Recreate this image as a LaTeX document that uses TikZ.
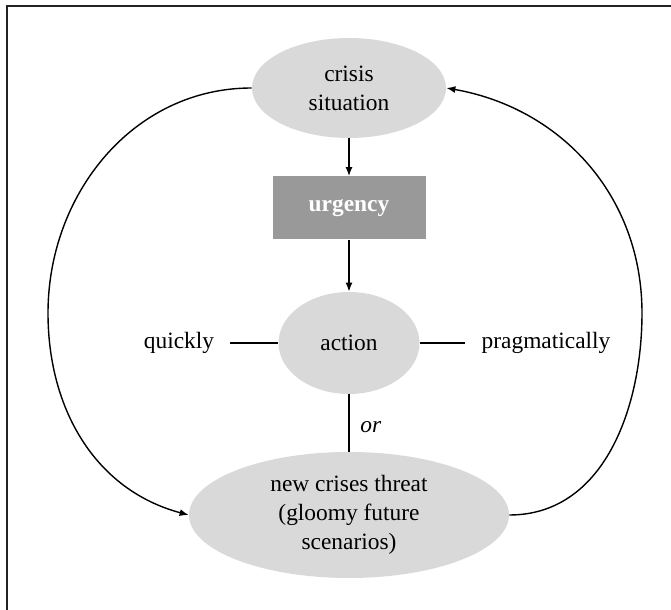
\documentclass[tikz,border=0pt]{standalone}
\usepackage{fontspec}
\setmainfont{Liberation Serif}
\usepackage{tikz}
\usetikzlibrary{shapes.geometric, arrows.meta, positioning}
\definecolor{ovalgray}{RGB}{217,217,217}
\definecolor{boxgray}{RGB}{153,153,153}
\definecolor{framegray}{RGB}{34,34,34}

\begin{document}
\begin{tikzpicture}[x=0.5pt,y=0.5pt,
	every node/.style={font=\fontsize{11.7}{14.5}\selectfont},
	oval/.style={ellipse, fill=ovalgray, inner sep=0pt, align=center},
	urgbox/.style={rectangle, fill=boxgray, text=white,
		font=\fontsize{11.7}{14.5}\selectfont\bfseries,
		minimum width=76.5pt, minimum height=31.5pt},
	conn/.style={line width=0.7pt},
	arr/.style={conn, -{Latex[length=4.5pt,width=3.5pt]}}]

	\useasboundingbox (0,0) rectangle (671,610);
	\draw[line width=1pt, framegray] (671,603.5) -- (6.5,603.5) -- (6.5,0);

	% the cycle
	\node[oval, minimum width=97pt, minimum height=50pt] (crisis) at (349,522) {crisis\\situation};
	\node[urgbox] (urg) at (349,402) {urgency};
	\node[oval, minimum width=70.5pt, minimum height=51pt] (action) at (349,267) {action};
	\node[oval, minimum width=160pt, minimum height=63pt] (threat) at (349,95) {new crises threat\\(gloomy future\\scenarios)};

	\node[inner sep=8pt] (quick) at (179,267) {quickly};
	\node[inner sep=8pt] (prag) at (546,267) {pragmatically};

	\coordinate (lbend) at (48,297);
	\coordinate (rbend) at (642,297);

	\draw[arr] (crisis) -- (urg);
	\draw[arr] (urg) -- (action);
	\draw[conn] (quick) -- (action);
	\draw[conn] (action) -- (prag);
	\draw[conn] (action) -- node[pos=0.58, right=2pt, font=\fontsize{11.7}{14.5}\selectfont\itshape] (ortext) {or} (threat);

	\draw[arr] (crisis.west) to[out=180,in=90] (lbend) to[out=-90,in=165] (threat.west);
	\draw[arr] (threat.east) to[out=0,in=-90] (rbend) to[out=90,in=-10] (crisis.east);
\end{tikzpicture}
\end{document}
